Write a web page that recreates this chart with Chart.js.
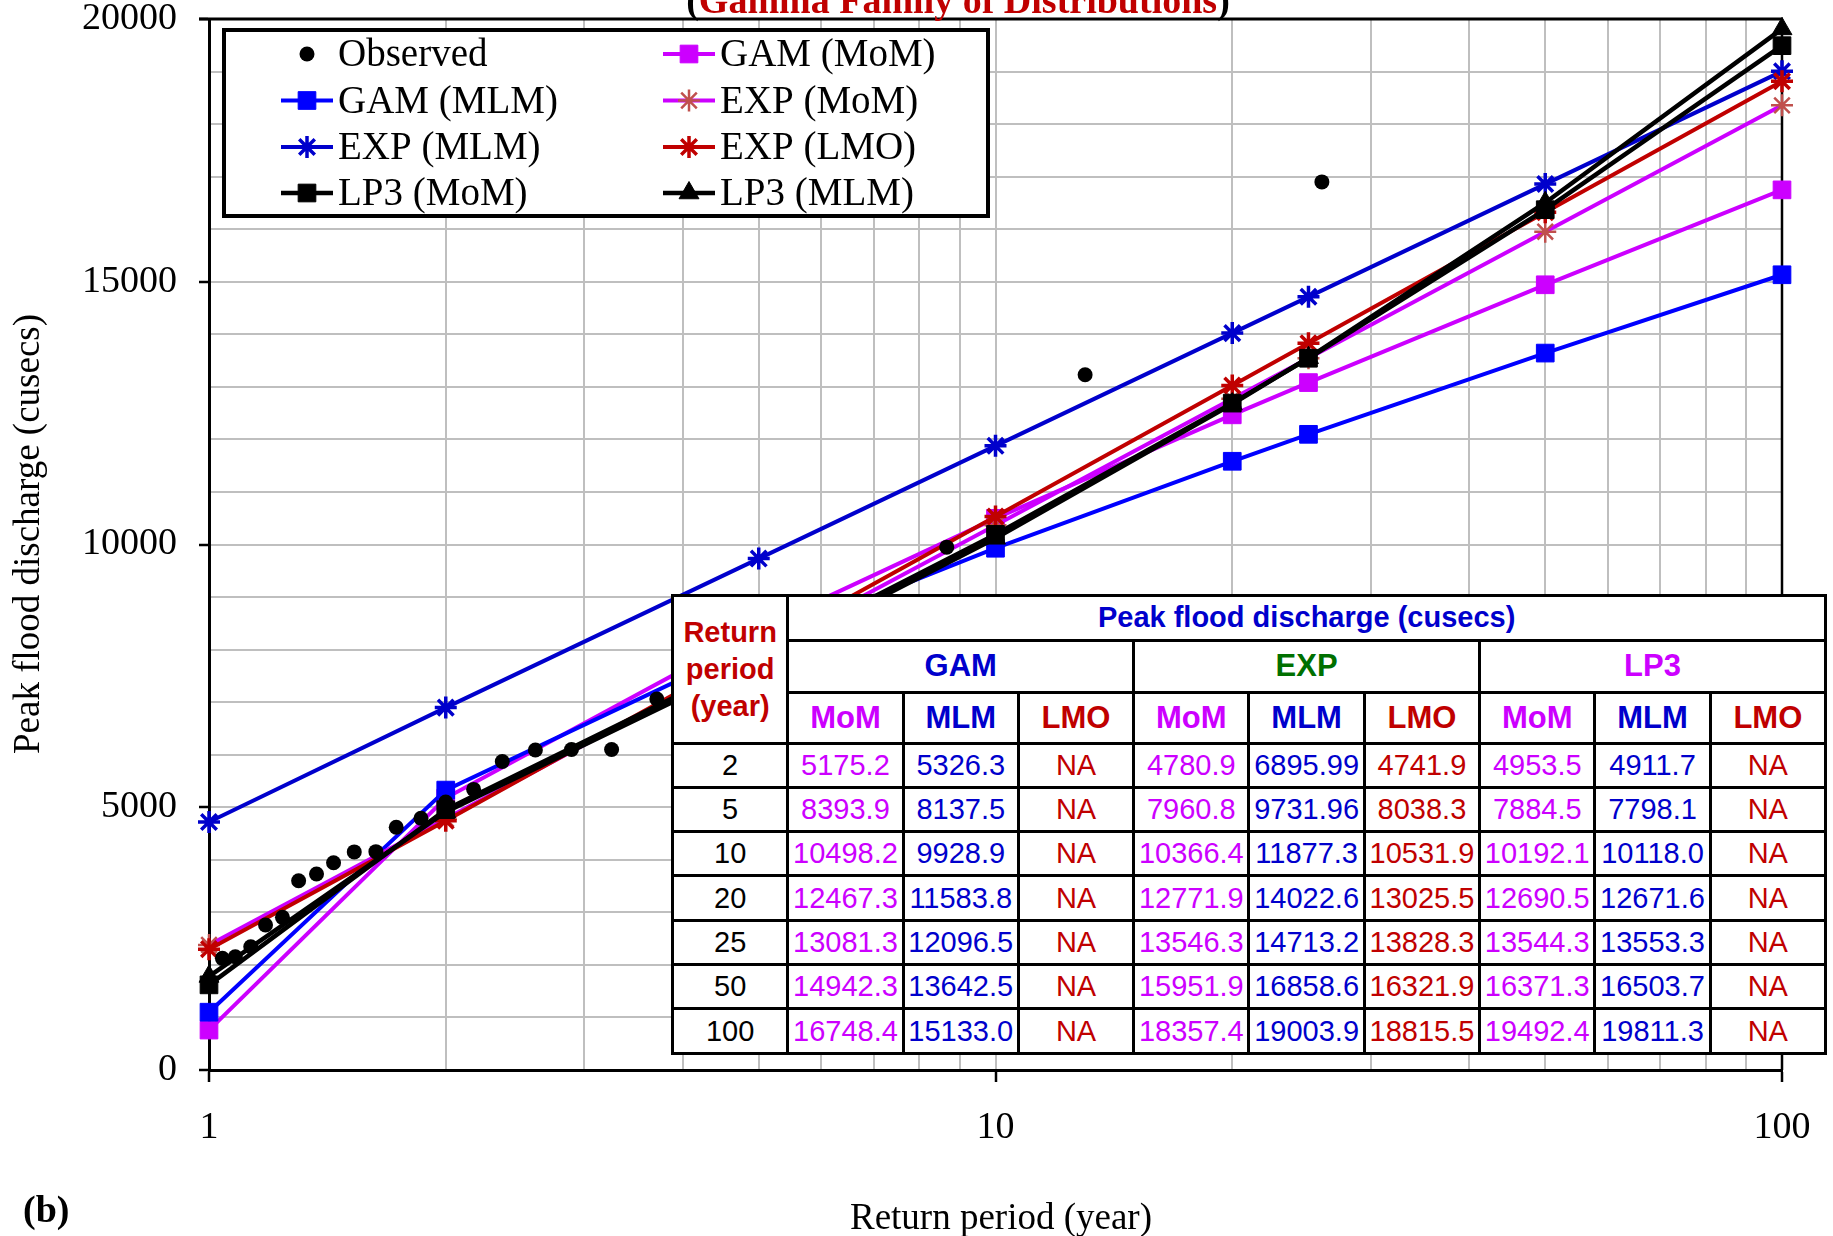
<!DOCTYPE html>
<html>
<head>
<meta charset="utf-8">
<title>Gamma family of distributions</title>
<script src="https://cdn.jsdelivr.net/npm/chart.js@4.4.0/dist/chart.umd.min.js"></script>
<style>
  html, body { margin: 0; padding: 0; background: #fff; }
  #wrap { position: relative; width: 1833px; height: 1236px; overflow: hidden; }
  #chart { position: absolute; left: 0; top: 0; }
  #tbl {
    position: absolute; left: 671px; top: 594px;
    display: grid;
    grid-template-columns: repeat(10, 112.3px);
    grid-template-rows: 41.5px 49px 48px repeat(7, 41.33px);
    gap: 3px; padding: 3px; background: #000;
    font-family: "Liberation Sans", Arial, sans-serif;
  }
  #tbl div {
    background: #fff; display: flex; align-items: center; justify-content: center;
    text-align: center; white-space: nowrap; font-size: 29px;
  }
  #tbl .hd { font-weight: bold; }
  #tbl .big { font-size: 31px; }
</style>
</head>
<body>
<div id="wrap">
  <canvas id="chart" width="1833" height="1236"></canvas>
  <div id="tbl"></div>
</div>
<script>
// return periods in the table
const tableYears = [2, 5, 10, 20, 25, 50, 100]

// peak flood discharge (cusecs), as printed in the table
const gamMoM = ['5175.2', '8393.9', '10498.2', '12467.3', '13081.3', '14942.3', '16748.4']
const gamMLM = ['5326.3', '8137.5', '9928.9', '11583.8', '12096.5', '13642.5', '15133.0']
const expMoM = ['4780.9', '7960.8', '10366.4', '12771.9', '13546.3', '15951.9', '18357.4']
const expMLM = ['6895.99', '9731.96', '11877.3', '14022.6', '14713.2', '16858.6', '19003.9']
const expLMO = ['4741.9', '8038.3', '10531.9', '13025.5', '13828.3', '16321.9', '18815.5']
const lp3MoM = ['4953.5', '7884.5', '10192.1', '12690.5', '13544.3', '16371.3', '19492.4']
const lp3MLM = ['4911.7', '7798.1', '10118.0', '12671.6', '13553.3', '16503.7', '19811.3']

// where each fitted curve starts at T = 1
// order: GAM MoM, GAM MLM, EXP MoM, EXP MLM, EXP LMO, LP3 MoM, LP3 MLM
const startAtOne = [760, 1100, 2380, 4720, 2300, 1620, 1780]

// observed annual peaks, plotted at their return period
const obsYears = [26, 13, 8.67, 6.5, 5.2, 4.33, 3.71, 3.25, 2.89, 2.6, 2.36, 2.17, 2,
  1.86, 1.73, 1.63, 1.53, 1.44, 1.37, 1.3, 1.24, 1.18, 1.13, 1.08, 1.04]
const obsFlow = [16900, 13230, 9950, 8600, 7900, 7300, 7060, 6100, 6100, 6090, 5870, 5340, 5100,
  4790, 4620, 4155, 4150, 3945, 3730, 3600, 2905, 2760, 2345, 2155, 2125]

// axis ticks
const xGridValues = [1, 2, 3, 4, 5, 6, 7, 8, 9, 10, 20, 30, 40, 50, 60, 70, 80, 90, 100]
const xLabelValues = [1, 10, 100]
const yMajorStep = 5000

const MAGENTA = '#cc00ff'
const BLUE = '#0000ff'
const DARKBLUE = '#0000cc'
const RED = '#c00000'
const BROWN = '#c0504d'
const SERIF = '"Liberation Serif", "Times New Roman", serif'

function curve(label, values, start, color, markColor, style, radius, bw, lw, order) {
  const pts = [{ x: 1, y: start }]
  tableYears.forEach((t, i) => pts.push({ x: t, y: parseFloat(values[i]) }))
  return {
    label,
    data: pts,
    showLine: true,
    borderColor: color,
    borderWidth: lw,
    pointStyle: style,
    pointRadius: radius,
    pointHoverRadius: radius,
    pointBackgroundColor: markColor,
    pointBorderColor: markColor,
    pointBorderWidth: bw,
    clip: false,
    order,
  }
}

const datasets = [
  {
    label: 'Observed',
    data: obsYears.map((t, i) => ({ x: t, y: obsFlow[i] })),
    showLine: false,
    pointStyle: 'circle',
    pointRadius: 7.5,
    pointBackgroundColor: '#000',
    pointBorderColor: '#000',
    pointBorderWidth: 0,
    clip: false,
    order: 0,
  },
  curve('GAM (MoM)', gamMoM, startAtOne[0], MAGENTA, MAGENTA, 'rect', 12.5, 1, 4, 7),
  curve('GAM (MLM)', gamMLM, startAtOne[1], BLUE, BLUE, 'rect', 12.5, 1, 4, 6),
  curve('EXP (MoM)', expMoM, startAtOne[2], MAGENTA, BROWN, 'star', 11, 2.5, 4, 5),
  curve('EXP (MLM)', expMLM, startAtOne[3], DARKBLUE, DARKBLUE, 'star', 11, 3.5, 4, 4),
  curve('EXP (LMO)', expLMO, startAtOne[4], RED, RED, 'star', 11, 3.5, 4, 3),
  curve('LP3 (MoM)', lp3MoM, startAtOne[5], '#000', '#000', 'rect', 12.5, 1, 4.5, 2),
  curve('LP3 (MLM)', lp3MLM, startAtOne[6], '#000', '#000', 'triangle', 11.5, 1, 4.5, 1),
]

function drawMarker(ctx, ds, x, y) {
  const r = ds.pointRadius
  ctx.save()
  ctx.fillStyle = ds.pointBackgroundColor
  ctx.strokeStyle = ds.pointBorderColor
  ctx.lineWidth = ds.pointBorderWidth
  ctx.beginPath()
  if (ds.pointStyle === 'circle') {
    ctx.arc(x, y, r, 0, Math.PI * 2)
    ctx.fill()
  } else if (ds.pointStyle === 'rect') {
    const s = r * Math.SQRT1_2
    ctx.rect(x - s, y - s, 2 * s, 2 * s)
    ctx.fill()
    if (ctx.lineWidth > 0) ctx.stroke()
  } else if (ds.pointStyle === 'triangle') {
    for (let k = 0; k < 3; k++) {
      const a = k * 2 * Math.PI / 3
      const px = x + Math.sin(a) * r, py = y - Math.cos(a) * r
      if (k === 0) ctx.moveTo(px, py); else ctx.lineTo(px, py)
    }
    ctx.closePath()
    ctx.fill()
    ctx.stroke()
  } else if (ds.pointStyle === 'star') {
    for (let k = 0; k < 4; k++) {
      const a = k * Math.PI / 4
      ctx.moveTo(x - Math.cos(a) * r, y - Math.sin(a) * r)
      ctx.lineTo(x + Math.cos(a) * r, y + Math.sin(a) * r)
    }
    ctx.stroke()
  }
  ctx.restore()
}

// black frame on top and right of the plot area
const framePlugin = {
  id: 'frame',
  beforeDatasetsDraw(chart) {
    const { ctx, chartArea: a } = chart
    ctx.save()
    ctx.strokeStyle = '#000'
    ctx.lineWidth = 3
    ctx.beginPath()
    ctx.moveTo(a.left - 10, a.top)
    ctx.lineTo(a.right + 1, a.top)
    ctx.stroke()
    ctx.lineWidth = 2.5
    ctx.beginPath()
    ctx.moveTo(a.right, a.top)
    ctx.lineTo(a.right, a.bottom)
    ctx.stroke()
    ctx.restore()
  },
}

// legend box, titles
const textPlugin = {
  id: 'texts',
  afterDraw(chart) {
    const ctx = chart.ctx
    ctx.save()

    // legend
    const box = { left: 224, top: 30, right: 988, bottom: 216 }
    ctx.fillStyle = '#fff'
    ctx.fillRect(box.left, box.top, box.right - box.left, box.bottom - box.top)
    ctx.strokeStyle = '#000'
    ctx.lineWidth = 4
    ctx.strokeRect(box.left, box.top, box.right - box.left, box.bottom - box.top)
    const rowY = [54, 100.5, 147, 193]
    const symX = [307, 689]
    const txtX = [338, 720]
    ctx.font = '39px ' + SERIF
    ctx.textBaseline = 'middle'
    ctx.textAlign = 'left'
    datasets.forEach((ds, i) => {
      const col = i % 2, row = Math.floor(i / 2)
      const y = rowY[row], cx = symX[col]
      if (ds.showLine) {
        ctx.strokeStyle = ds.borderColor
        ctx.lineWidth = ds.borderWidth
        ctx.beginPath()
        ctx.moveTo(cx - 26, y)
        ctx.lineTo(cx + 26, y)
        ctx.stroke()
      }
      drawMarker(ctx, ds, cx, y)
      ctx.fillStyle = '#000'
      ctx.fillText(ds.label, txtX[col], y + 2)
    })

    // chart title, mostly cut off at the top edge
    ctx.font = 'bold 38px ' + SERIF
    ctx.textBaseline = 'alphabetic'
    const parts = [['(', '#000'], ['Gamma Family of Distributions', RED], [')', '#000']]
    const total = parts.reduce((s, p) => s + ctx.measureText(p[0]).width, 0)
    let tx = 958 - total / 2
    parts.forEach(p => {
      ctx.fillStyle = p[1]
      ctx.fillText(p[0], tx, 13)
      tx += ctx.measureText(p[0]).width
    })

    // axis titles
    ctx.fillStyle = '#000'
    ctx.font = '37px ' + SERIF
    ctx.textAlign = 'center'
    ctx.textBaseline = 'middle'
    ctx.fillText('Return period (year)', 1001, 1219)
    ctx.save()
    ctx.translate(29, 534)
    ctx.rotate(-Math.PI / 2)
    ctx.fillText('Peak flood discharge (cusecs)', 0, 0)
    ctx.restore()

    ctx.font = 'bold 38px ' + SERIF
    ctx.textAlign = 'left'
    ctx.fillText('(b)', 23, 1212)
    ctx.restore()
  },
}

const transparent = 'rgba(0,0,0,0)'

new Chart(document.getElementById('chart'), {
  type: 'scatter',
  data: { datasets },
  options: {
    responsive: false,
    animation: false,
    devicePixelRatio: 1,
    layout: { autoPadding: false, padding: { left: 0, top: 19, right: 51, bottom: 0 } },
    plugins: { legend: { display: false }, tooltip: { enabled: false } },
    elements: { line: { tension: 0 } },
    scales: {
      x: {
        type: 'logarithmic',
        min: 1,
        max: 100,
        afterBuildTicks: s => { s.ticks = xGridValues.map(v => ({ value: v })) },
        afterFit: s => {
          s.height = 166
          s.paddingLeft = 0
          s.paddingRight = 0
        },
        border: { display: true, color: '#000', width: 3 },
        grid: {
          color: '#bfbfbf',
          lineWidth: 2,
          tickLength: 12,
          tickWidth: 2.5,
          tickColor: c => (c.tick && xLabelValues.includes(c.tick.value)) ? '#000' : transparent,
        },
        ticks: {
          autoSkip: false,
          maxRotation: 0,
          padding: 23,
          color: '#000',
          font: { family: SERIF, size: 38 },
          callback: v => xLabelValues.includes(v) ? String(v) : '',
        },
      },
      y: {
        min: 0,
        max: 20000,
        afterFit: s => {
          s.width = 209
          s.paddingTop = 0
          s.paddingBottom = 0
        },
        border: { display: true, color: '#000', width: 3 },
        grid: {
          color: '#bfbfbf',
          lineWidth: 2,
          tickLength: 10,
          tickWidth: 2.5,
          tickColor: c => (c.tick && c.tick.value % yMajorStep === 0) ? '#000' : transparent,
        },
        ticks: {
          stepSize: 1000,
          autoSkip: false,
          padding: 22,
          color: '#000',
          font: { family: SERIF, size: 38, lineHeight: 1 },
          callback: v => v % yMajorStep === 0 ? String(v) : '',
        },
      },
    },
  },
  plugins: [framePlugin, textPlugin],
})

// summary table drawn over the plot
const tbl = document.getElementById('tbl')
function cell(text, color, col, row, cls, colSpan, rowSpan) {
  const d = document.createElement('div')
  d.innerHTML = text
  d.style.color = color
  d.style.gridColumn = colSpan ? col + ' / span ' + colSpan : String(col)
  d.style.gridRow = rowSpan ? row + ' / span ' + rowSpan : String(row)
  if (cls) d.className = cls
  tbl.appendChild(d)
  return d
}
const methods = [['MoM', MAGENTA], ['MLM', DARKBLUE], ['LMO', RED]]
const families = [
  ['GAM', DARKBLUE, [gamMoM, gamMLM, null]],
  ['EXP', '#007000', [expMoM, expMLM, expLMO]],
  ['LP3', MAGENTA, [lp3MoM, lp3MLM, null]],
]
const rp = cell('Return<br>period<br>(year)', RED, 1, 1, 'hd', null, 3)
rp.style.lineHeight = '37px'
cell('Peak flood discharge (cusecs)', DARKBLUE, 2, 1, 'hd', 9)
families.forEach((f, fi) => {
  cell(f[0], f[1], 2 + fi * 3, 2, 'hd big', 3)
  methods.forEach((m, mi) => cell(m[0], m[1], 2 + fi * 3 + mi, 3, 'hd big'))
})
tableYears.forEach((t, r) => {
  cell(String(t), '#000', 1, 4 + r)
  families.forEach((f, fi) => {
    f[2].forEach((vals, mi) => {
      cell(vals ? vals[r] : 'NA', methods[mi][1], 2 + fi * 3 + mi, 4 + r)
    })
  })
})
</script>
</body>
</html>
